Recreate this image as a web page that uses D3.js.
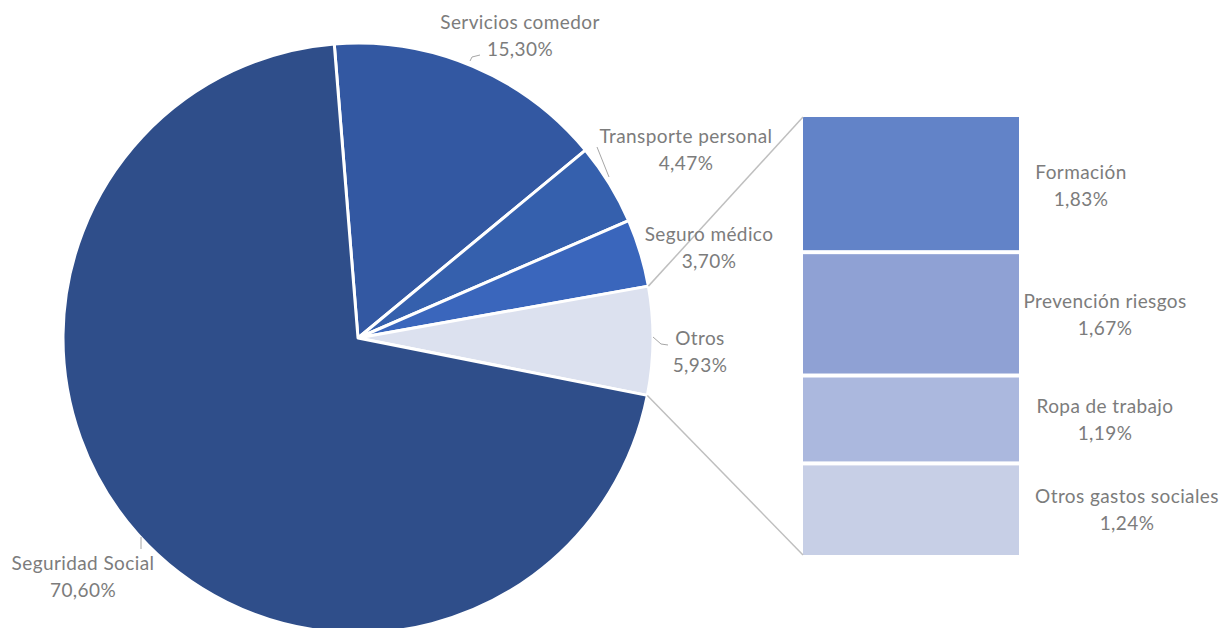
<!DOCTYPE html>
<html>
<head>
<meta charset="utf-8">
<script src="https://cdn.jsdelivr.net/npm/d3@7"></script>
<style>
  body { margin: 0; background: #fff; }
  text { font-family: Lato, "Open Sans", sans-serif; font-size: 19px; letter-spacing: 0.4px; fill: #7c7c7c; }
</style>
</head>
<body>
<svg id="chart" width="1221" height="628"></svg>
<script>
var pieNames = ["Servicios comedor", "Transporte personal", "Seguro médico", "Otros", "Seguridad Social"];
var pieValues = [15.30, 4.47, 3.70, 5.93, 70.60];
var pieColors = ["#3358a2", "#3560ad", "#3a66bc", "#dce1ef", "#2f4e8a"];

var barNames = ["Formación", "Prevención riesgos", "Ropa de trabajo", "Otros gastos sociales"];
var barValues = [1.83, 1.67, 1.19, 1.24];
var barColors = ["#6283c8", "#8fa1d4", "#abb8de", "#c7cfe6"];

var fmt = function(v) { return d3.format(".2f")(v).replace(".", ",") + "%"; };

var svg = d3.select("#chart"),
    cx = 358, cy = 338, radius = 295;

var start = -4.62 * Math.PI / 180;
var pie = d3.pie().sort(null).startAngle(start).endAngle(start + 2 * Math.PI);
var arcs = pie(pieValues);
var arc = d3.arc().innerRadius(0).outerRadius(radius);

var g = svg.append("g").attr("transform", "translate(" + cx + "," + cy + ")");

g.selectAll("path")
    .data(arcs)
  .enter().append("path")
    .attr("d", arc)
    .attr("fill", function(d, i) { return pieColors[i]; })
    .attr("stroke", "#fff")
    .attr("stroke-width", 3)
    .attr("stroke-linejoin", "round");

// bar of pie
var otros = arcs[3];
var barX = 803, barW = 216;
var y = d3.scaleLinear().domain([0, d3.sum(barValues)]).range([117, 555]);
var cum = [0];
barValues.forEach(function(v, i) { cum.push(cum[i] + v); });

svg.selectAll("rect.bar")
    .data(barValues)
  .enter().append("rect")
    .attr("class", "bar")
    .attr("x", barX)
    .attr("width", barW)
    .attr("y", function(d, i) { return y(cum[i]) + (i > 0 ? 2 : 0); })
    .attr("height", function(d, i) { return y(cum[i + 1]) - y(cum[i]) - (i > 0 ? 2 : 0) - (i < barValues.length - 1 ? 2 : 0); })
    .attr("fill", function(d, i) { return barColors[i]; });

// connector lines
function edge(a) { return [cx + radius * Math.sin(a), cy - radius * Math.cos(a)]; }
var p1 = edge(otros.startAngle), p2 = edge(otros.endAngle);
svg.append("line")
    .attr("x1", p1[0]).attr("y1", p1[1])
    .attr("x2", barX).attr("y2", y(0))
    .attr("stroke", "#bfbfbf").attr("stroke-width", 1.5);
svg.append("line")
    .attr("x1", p2[0]).attr("y1", p2[1])
    .attr("x2", barX).attr("y2", y(d3.sum(barValues)))
    .attr("stroke", "#bfbfbf").attr("stroke-width", 1.5);

// pie labels
var pieLabelPos = [[520, 29], [686, 143], [709, 241], [700, 345], [83, 570]];
var leaders = [
  [[470, 61], [472, 57], [480, 55]],
  [[597, 147], [609, 177]],
  null,
  [[653, 337], [661, 344], [668, 345]],
  [[141, 537], [141, 549]]
];

pieNames.forEach(function(n, i) {
  var t = svg.append("text")
      .attr("x", pieLabelPos[i][0])
      .attr("y", pieLabelPos[i][1])
      .attr("text-anchor", "middle");
  t.append("tspan").attr("x", pieLabelPos[i][0]).text(n);
  t.append("tspan").attr("x", pieLabelPos[i][0]).attr("dy", 27).text(fmt(pieValues[i]));
  if (leaders[i]) {
    svg.append("path")
        .attr("d", d3.line()(leaders[i]))
        .attr("fill", "none")
        .attr("stroke", "#a6a6a6")
        .attr("stroke-width", 1);
  }
});

// bar labels
var barLabelX = [1081, 1105, 1105, 1127];
barNames.forEach(function(n, i) {
  var mid = y((cum[i] + cum[i + 1]) / 2);
  var t = svg.append("text")
      .attr("x", barLabelX[i])
      .attr("y", mid - 6)
      .attr("text-anchor", "middle");
  t.append("tspan").attr("x", barLabelX[i]).text(n);
  t.append("tspan").attr("x", barLabelX[i]).attr("dy", 27).text(fmt(barValues[i]));
});
</script>
</body>
</html>
